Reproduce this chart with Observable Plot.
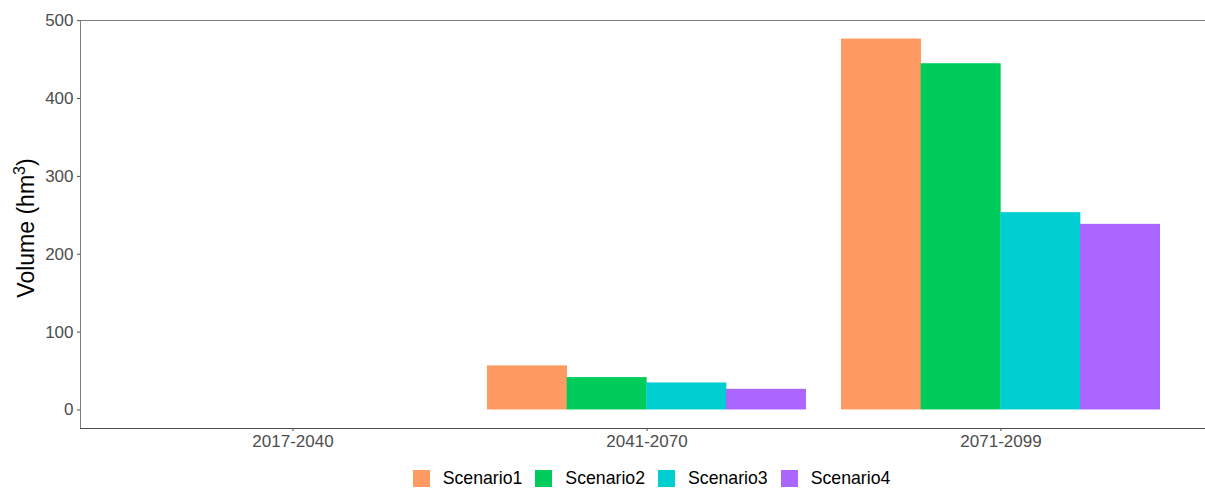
<!DOCTYPE html>
<html>
<head>
<meta charset="utf-8">
<script src="https://cdn.jsdelivr.net/npm/d3@7"></script>
<script src="https://cdn.jsdelivr.net/npm/@observablehq/plot@0.6"></script>
<style>
  body { margin: 0; background: #fff; font-family: "Liberation Sans", Arial, sans-serif; }
  #chart svg { display: block; }
  #chart svg g[aria-label$="axis tick label"] text { font-size: 17px; }
  .legend { display: flex; justify-content: center; align-items: center; height: 27px; margin-top: 3px; padding-left: 98px; font-size: 17.7px; color: #000; }
  .legend .item { display: flex; align-items: center; margin-right: 13px; }
  .legend .item:last-child { margin-right: 0; }
  .legend .swatch { width: 17px; height: 17px; margin-right: 13px; }
</style>
</head>
<body>
<div id="chart"></div>
<div class="legend" id="legend"></div>
<script>
// Periods and scenarios
const periods = ["2017-2040", "2041-2070", "2071-2099"];
const scenarios = ["Scenario1", "Scenario2", "Scenario3", "Scenario4"];

// Volume (hm³) per period, one array per scenario
const scenario1 = [0, 56.6, 476.4];
const scenario2 = [0, 41.6, 444.7];
const scenario3 = [0, 34.7, 253.4];
const scenario4 = [0, 26.5, 238.4];

const yTicks = [0, 100, 200, 300, 400, 500];
const colors = ["#FF9A63", "#00CC5C", "#00CED1", "#AA66FF"];

const series = [scenario1, scenario2, scenario3, scenario4];
const data = periods.flatMap((period, i) =>
  scenarios.map((scenario, j) => ({ period, scenario, volume: series[j][i] }))
);

// 5% expansion of the data range
const vmax = d3.max(data, d => d.volume);
const pad = vmax * 0.05;

const W = 1205, H = 462, mL = 80, mR = -8, mT = 20, mB = 34;

// Band layout: each period band holds the four scenario bars side by side
const paddingInner = 0.1, paddingOuter = 0.15;
const step = (W - mL - mR) / (periods.length - paddingInner + 2 * paddingOuter);
const bandwidth = step * (1 - paddingInner);
const barWidth = bandwidth / scenarios.length;

const chart = Plot.plot({
  width: W,
  height: H,
  marginLeft: mL,
  marginRight: mR,
  marginTop: mT,
  marginBottom: mB,
  style: { fontFamily: "'Liberation Sans', Arial, sans-serif", fontSize: "17px", color: "#4d4d4d", background: "#fff" },
  x: { domain: periods, paddingInner, paddingOuter, label: null },
  y: { domain: [-pad, vmax + pad], label: null },
  color: { domain: scenarios, range: colors },
  marks: [
    ...scenarios.map((s, j) =>
      Plot.barY(data.filter(d => d.scenario === s), {
        x: "period",
        y: "volume",
        fill: "scenario",
        insetLeft: j * barWidth,
        insetRight: (scenarios.length - 1 - j) * barWidth
      })
    ),
    Plot.axisY({ ticks: yTicks, tickSize: 3, tickPadding: 4, fontSize: 17, label: null }),
    Plot.axisX({ tickSize: 3, tickPadding: 3, fontSize: 17, label: null })
  ]
});

document.getElementById("chart").appendChild(chart);

// Panel border lines and y-axis title
const svg = d3.select(chart);
const bottom = H - mB;
svg.append("line").attr("x1", mL + 0.5).attr("x2", mL + 0.5).attr("y1", mT).attr("y2", bottom)
  .attr("stroke", "#7f7f7f").attr("stroke-width", 1);
svg.append("line").attr("x1", mL).attr("x2", W).attr("y1", mT + 0.5).attr("y2", mT + 0.5)
  .attr("stroke", "#7f7f7f").attr("stroke-width", 1);
svg.append("line").attr("x1", mL).attr("x2", W).attr("y1", bottom + 0.5).attr("y2", bottom + 0.5)
  .attr("stroke", "#4d4d4d").attr("stroke-width", 1);

const title = svg.append("text")
  .attr("transform", `translate(34,228) rotate(-90)`)
  .attr("text-anchor", "middle")
  .attr("font-size", 23)
  .attr("fill", "#000");
title.append("tspan").text("Volume (hm");
title.append("tspan").attr("font-size", 16).attr("dy", -9).text("3");
title.append("tspan").attr("dy", 9).text(")");

// Legend
const legend = d3.select("#legend");
scenarios.forEach((s, i) => {
  const item = legend.append("div").attr("class", "item");
  item.append("div").attr("class", "swatch").style("background", colors[i]);
  item.append("span").text(s);
});
</script>
</body>
</html>
